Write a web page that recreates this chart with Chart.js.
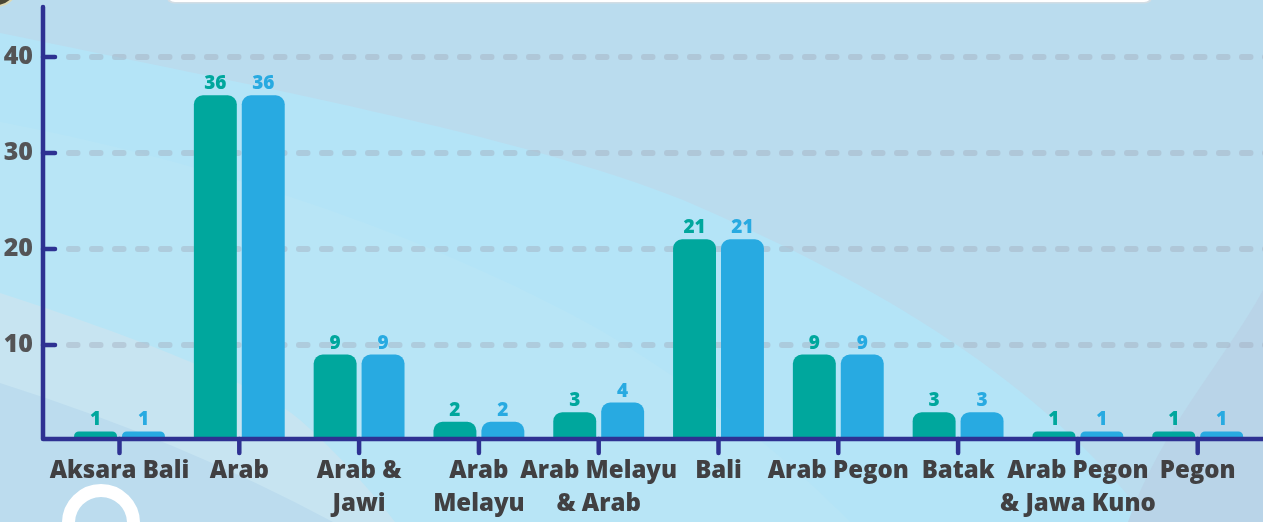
<!DOCTYPE html>
<html>
<head>
<meta charset="utf-8">
<script src="https://cdn.jsdelivr.net/npm/chart.js@4.4.1/dist/chart.umd.min.js"></script>
<style>
  html, body { margin: 0; padding: 0; overflow: hidden; background: #badcee; }
  canvas { display: block; }
</style>
</head>
<body>
<canvas id="c" width="1263" height="522" style="width:1263px;height:522px"></canvas>
<script>
// ---------- DATA ----------
const categories = [
  'Aksara Bali', 'Arab', ['Arab &', 'Jawi'], ['Arab', 'Melayu'], ['Arab Melayu', '& Arab'],
  'Bali', 'Arab Pegon', 'Batak', ['Arab Pegon', '& Jawa Kuno'], 'Pegon'
];
const seriesA = [1, 36, 9, 2, 3, 21, 9, 3, 1, 1];
const seriesB = [1, 36, 9, 2, 4, 21, 9, 3, 1, 1];
const yTicks = [10, 20, 30, 40];

// ---------- STYLE ----------
const FONT = "'Open Sans', 'DejaVu Sans', sans-serif";
const TEAL = '#00a79d';
const BLUE = '#28aae1';
const NAVY = '#2e3192';

const bgPlugin = {
  id: 'bg',
  beforeDraw(chart) {
    const ctx = chart.ctx;
    const W = chart.width, H = chart.height;
    ctx.save();
    ctx.fillStyle = '#badcee';
    ctx.fillRect(0, 0, W, H);
    // cyan sweep
    ctx.fillStyle = '#b4e4f7';
    ctx.beginPath();
    ctx.moveTo(0, 33);
    ctx.bezierCurveTo(250, 85, 520, 135, 683, 200);
    ctx.bezierCurveTo(880, 285, 1040, 380, 1150, 522);
    ctx.lineTo(0, 522);
    ctx.closePath();
    ctx.fill();
    // subtle lighter band inside cyan
    ctx.fillStyle = '#b8e5f6';
    ctx.beginPath();
    ctx.moveTo(0, 122);
    ctx.bezierCurveTo(200, 160, 420, 230, 600, 330);
    ctx.bezierCurveTo(700, 390, 780, 450, 850, 522);
    ctx.lineTo(0, 522);
    ctx.closePath();
    ctx.fill();
    // bottom-left light band
    ctx.fillStyle = '#c7e4f1';
    ctx.beginPath();
    ctx.moveTo(0, 293);
    ctx.bezierCurveTo(130, 335, 260, 385, 300, 420);
    ctx.bezierCurveTo(340, 455, 370, 490, 395, 522);
    ctx.lineTo(0, 522);
    ctx.closePath();
    ctx.fill();
    // bottom-left deeper band
    ctx.fillStyle = '#bcdcee';
    ctx.beginPath();
    ctx.moveTo(0, 383);
    ctx.quadraticCurveTo(180, 440, 333, 522);
    ctx.lineTo(0, 522);
    ctx.closePath();
    ctx.fill();
    // bottom-right darker shape
    ctx.fillStyle = '#b9d4e8';
    ctx.beginPath();
    ctx.moveTo(1263, 290);
    ctx.bezierCurveTo(1225, 360, 1160, 430, 1128, 522);
    ctx.lineTo(1263, 522);
    ctx.closePath();
    ctx.fill();
    // white header box (cut off)
    ctx.fillStyle = '#d2dde4';
    ctx.beginPath();
    ctx.roundRect(166, -20, 987, 23.5, 8);
    ctx.fill();
    ctx.fillStyle = '#ffffff';
    ctx.beginPath();
    ctx.roundRect(167, -20, 985, 22, 8);
    ctx.fill();
    // dark circle top-left
    ctx.fillStyle = '#4a4634';
    ctx.strokeStyle = '#ddd9b4';
    ctx.lineWidth = 2;
    ctx.beginPath();
    ctx.arc(-4, -16, 22, 0, Math.PI * 2);
    ctx.fill();
    ctx.stroke();
    // white ring bottom-left
    ctx.strokeStyle = '#ffffff';
    ctx.lineWidth = 13;
    ctx.beginPath();
    ctx.arc(101, 523, 32.5, 0, Math.PI * 2);
    ctx.stroke();
    ctx.restore();
  },
  beforeDatasetsDraw(chart) {
    const ctx = chart.ctx;
    const y = chart.scales.y;
    ctx.save();
    ctx.strokeStyle = 'rgba(160,170,185,0.42)';
    ctx.lineWidth = 6;
    ctx.lineCap = 'round';
    ctx.setLineDash([8.5, 14.5]);
    yTicks.forEach(v => {
      const py = y.getPixelForValue(v);
      ctx.beginPath();
      ctx.moveTo(69, py);
      ctx.lineTo(chart.width + 10, py);
      ctx.stroke();
    });
    ctx.restore();
  },
  afterDatasetsDraw(chart) {
    const ctx = chart.ctx;
    const xs = chart.scales.x, ys = chart.scales.y;
    const area = chart.chartArea;
    const x0 = area.left - 16.6;
    const yBase = ys.getPixelForValue(0) - 2;
    ctx.save();
    ctx.strokeStyle = NAVY;
    ctx.lineWidth = 4.5;
    ctx.lineCap = 'round';
    ctx.lineJoin = 'round';
    ctx.beginPath();
    ctx.moveTo(x0, area.top);
    ctx.lineTo(x0, yBase);
    ctx.lineTo(chart.width + 10, yBase);
    ctx.stroke();
    yTicks.forEach(v => {
      const py = ys.getPixelForValue(v);
      ctx.beginPath();
      ctx.moveTo(x0, py);
      ctx.lineTo(x0 + 12, py);
      ctx.stroke();
    });
    categories.forEach((c, i) => {
      const px = xs.getPixelForValue(i);
      ctx.beginPath();
      ctx.moveTo(px, yBase);
      ctx.lineTo(px, yBase + 14);
      ctx.stroke();
    });
    // value labels
    ctx.font = "800 19px " + FONT;
    ctx.textAlign = 'center';
    ctx.textBaseline = 'alphabetic';
    chart.data.datasets.forEach((ds, di) => {
      const meta = chart.getDatasetMeta(di);
      ctx.fillStyle = ds.backgroundColor;
      meta.data.forEach((el, i) => {
        ctx.fillText(String(ds.data[i]), el.x, el.y - 6);
      });
    });
    ctx.restore();
  }
};

new Chart(document.getElementById('c'), {
  type: 'bar',
  data: {
    labels: categories,
    datasets: [
      { label: 'Seri 1', data: seriesA, backgroundColor: TEAL },
      { label: 'Seri 2', data: seriesB, backgroundColor: BLUE }
    ]
  },
  options: {
    responsive: false,
    animation: false,
    devicePixelRatio: 1,
    layout: { padding: { left: 0, right: 5.4, top: 7, bottom: 0 } },
    datasets: {
      bar: {
        barPercentage: 0.896,
        categoryPercentage: 0.80,
        borderRadius: { topLeft: 9, topRight: 9, bottomLeft: 0, bottomRight: 0 },
        borderSkipped: 'start'
      }
    },
    plugins: { legend: { display: false }, tooltip: { enabled: false } },
    scales: {
      x: {
        offset: true,
        grid: { display: false, drawTicks: false },
        border: { display: false },
        ticks: {
          color: '#414042',
          font: { family: FONT, size: 24, weight: 800, lineHeight: 1.375 },
          padding: 14,
          maxRotation: 0,
          minRotation: 0,
          autoSkip: false
        },
        afterFit(s) { s.height = 81; s.paddingLeft = 0; s.paddingRight = 0; }
      },
      y: {
        min: 0,
        max: 45.2,
        grid: { display: false, drawTicks: false },
        border: { display: false },
        afterBuildTicks(s) { s.ticks = yTicks.map(v => ({ value: v })); },
        ticks: {
          color: '#545456',
          font: { family: FONT, size: 25, weight: 800 },
          padding: 26.6
        },
        afterFit(s) { s.width = 59.6; s.paddingTop = 0; s.paddingBottom = 0; }
      }
    }
  },
  plugins: [bgPlugin]
});
</script>
</body>
</html>
